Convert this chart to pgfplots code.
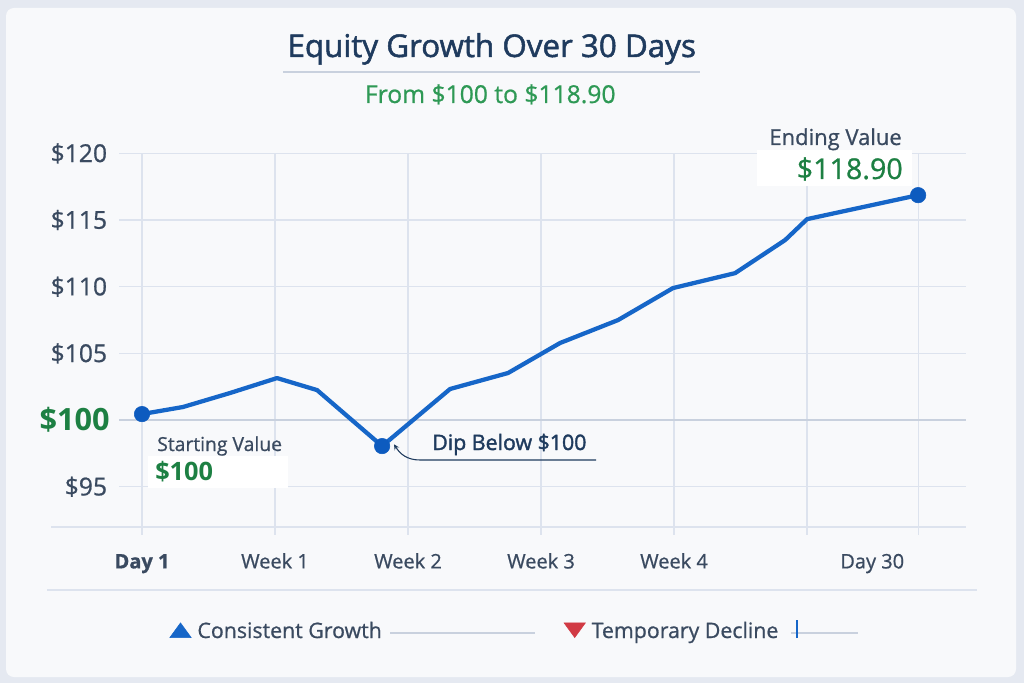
\documentclass[border=0pt]{standalone}
\usepackage{pgfplots}
\pgfplotsset{compat=1.18}
\usepackage{fontspec}
\setmainfont{Open Sans}
\newfontfamily\semibold[FakeBold=1.6]{Open Sans}
\newfontfamily\medium[FakeBold=0.8]{Open Sans}

\definecolor{bgout}{HTML}{E5E9F1}
\definecolor{panel}{HTML}{F8F9FB}
\definecolor{gridc}{HTML}{DDE3EE}
\definecolor{gridd}{HTML}{C9D1DE}
\definecolor{navy}{HTML}{1F3B5E}
\definecolor{tickc}{HTML}{3A4A60}
\definecolor{cgreen}{HTML}{1D8043}
\definecolor{subgreen}{HTML}{2E9955}
\definecolor{cblue}{HTML}{1666C8}
\definecolor{cdot}{HTML}{0D5BBF}
\definecolor{cred}{HTML}{D13A44}

\begin{document}
\begin{tikzpicture}[x=1pt,y=1pt]
% background and panel
\fill[bgout] (0,0) rectangle (768,512.25);
\fill[panel, rounded corners=6pt] (4.5,4.5) rectangle (762,506.25);

% title block
\node[anchor=base, text=navy, font=\semibold\fontsize{23.5}{28}\selectfont] at (368.8,469.5) {Equity Growth Over 30 Days};
\draw[gridd, line width=1.2pt] (212.25,458.25) -- (525,458.25);
\node[anchor=base, text=subgreen, font=\medium\fontsize{18.5}{22}\selectfont] at (367.7,435) {From \$100 to \$118.90};

% base line and separator
\draw[gridc, line width=1pt] (38.25,117) -- (724.5,117);
\draw[gridc, line width=1pt] (35.25,69.75) -- (732.75,69.75);

\begin{axis}[
    at={(89.25pt,117.2pt)}, anchor=south west,
    scale only axis, width=635.25pt, height=280pt,
    xmin=-0.173, xmax=6.195, ymin=92, ymax=120,
    clip=false,
    axis line style={draw=none},
    grid=major,
    major grid style={gridc, line width=0.9pt},
    xtick={0,1,2,3,4,5,5.835},
    xticklabels={{\bfseries Day 1},Week 1,Week 2,Week 3,Week 4,{},{}},
    extra x ticks={5.49},
    extra x tick labels={Day 30},
    extra x tick style={grid=none, tick style={draw=none}},
    ytick={95,105,110,115,120},
    yticklabels={\$95,\$105,\$110,\$115,\$120},
    extra y ticks={100},
    extra y tick labels={\$100},
    extra y tick style={major grid style={gridd, line width=0.9pt},
        yticklabel style={font=\bfseries\fontsize{23}{27}\selectfont, text=cgreen, xshift=2pt}},
    xtick pos=bottom, ytick pos=left,
    tick align=outside, major tick length=6pt,
    xtick style={gridc, line width=0.9pt},
    ytick style={draw=none},
    xticklabel style={font=\medium\fontsize{15}{18}\selectfont, text=tickc, anchor=base, yshift=-25.25pt},
    yticklabel style={font=\medium\fontsize{18.5}{22}\selectfont, text=tickc, anchor=east, inner sep=0pt, xshift=-2.75pt},
    legend style={at={(axis description cs:0.0594,-0.279)}, anchor=west,
        draw=none, fill=none, inner sep=0pt,
        font=\medium\fontsize{16}{19}\selectfont, text=tickc,
        legend columns=2,
        /tikz/every even column/.append style={column sep=134.5pt}},
]
\addplot[cblue, line width=3.2pt, line join=round, line cap=round, forget plot] coordinates {
    (0,100.45) (0.308,100.98) (0.662,102.03) (1.015,103.15) (1.316,102.25)
    (1.805,98.05) (2.316,102.33) (2.752,103.53) (3.143,105.78) (3.579,107.50)
    (3.992,109.90) (4.459,111.02) (4.835,113.50) (5.0,115.07) (5.835,116.87)
};
\addplot[only marks, mark=*, mark size=5.8pt, color=cdot, forget plot] coordinates {
    (0,100.45) (1.805,98.05) (5.835,116.87)
};
\addlegendimage{legend image code/.code={\fill[cblue] (-8pt,-5pt) -- (8pt,-5pt) -- (0pt,6pt) -- cycle; \path (10.5pt,0pt);}}
\addlegendentry{Consistent Growth}
\addlegendimage{legend image code/.code={\fill[cred] (-8pt,6pt) -- (8pt,6pt) -- (0pt,-5pt) -- cycle; \path (10.5pt,0pt);}}
\addlegendentry{Temporary Decline}
\end{axis}

% start annotation
\fill[white] (111,146.25) rectangle (216,170.25);
\node[anchor=base west, inner sep=0pt, text=tickc, font=\medium\fontsize{14.5}{17}\selectfont] at (117.75,174) {Starting Value};
\node[anchor=base west, inner sep=0pt, text=cgreen, font=\bfseries\fontsize{19}{22}\selectfont] at (116.25,152.25) {\$100};

% dip annotation
\draw[navy, line width=0.8pt, -stealth] (447,167.25) -- (315,167.25) .. controls (305,167.25) and (300,172) .. (295.5,179);
\node[anchor=base west, inner sep=0pt, text=navy, font=\semibold\fontsize{16}{19}\selectfont] at (324,174.75) {Dip Below \$100};

% end annotation
\fill[white] (567.75,372.75) rectangle (684,399.75);
\node[anchor=base east, inner sep=0pt, text=tickc, font=\medium\fontsize{16.5}{19}\selectfont] at (676.5,403.5) {Ending Value};
\node[anchor=base east, inner sep=0pt, text=cgreen, font=\medium\fontsize{21.5}{25}\selectfont] at (677.25,378) {\$118.90};

% legend trailing rules
\draw[gridd, line width=0.9pt] (292.5,37.5) -- (401.25,37.5);
\draw[gridd, line width=0.9pt] (593.25,37.5) -- (643.5,37.5);
\draw[cblue, line width=0.8pt] (597.75,33.75) -- (597.75,47.25);

\pgfresetboundingbox
\useasboundingbox (0,0) rectangle (768,512.25);
\end{tikzpicture}
\end{document}
